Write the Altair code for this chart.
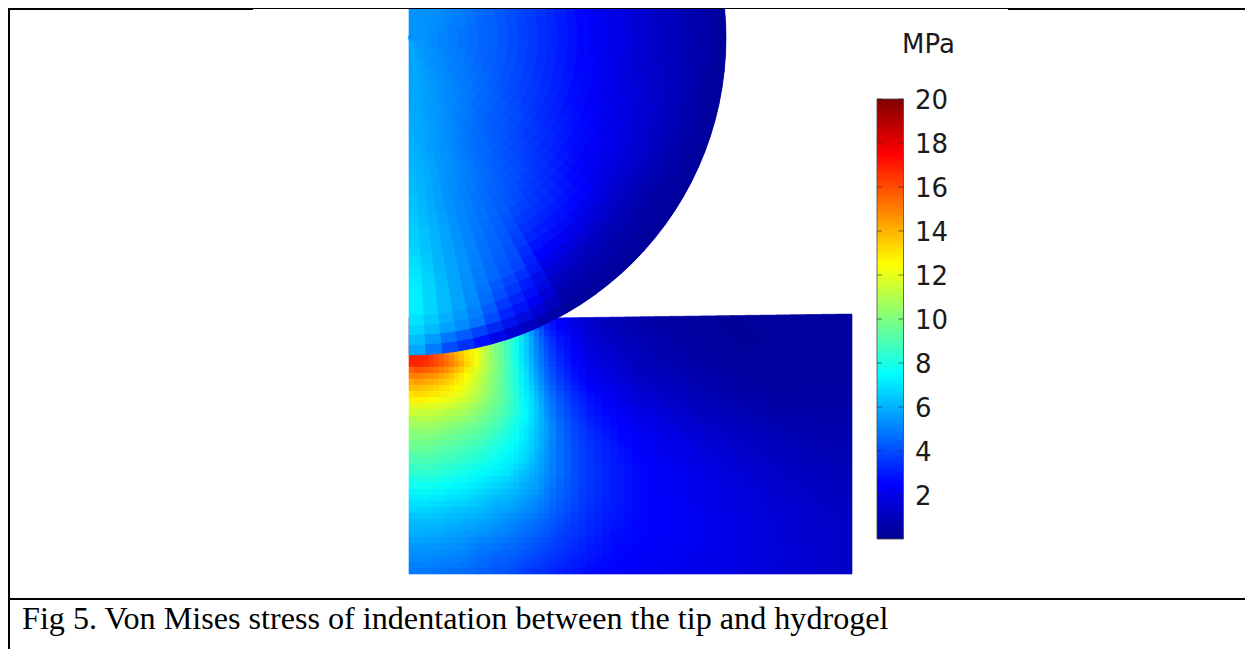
import pandas as pd
import numpy as np
import altair as alt

# Von Mises stress (MPa) in the tip: one row per 6 degree sector (clockwise from the top),
# values from the centre outward. Upper sectors are short: the figure's top edge cuts them.
TIP_SECTORS = [
 [5.4,5.4],[5.4,5.4],[5.4,5.4],[5.4,5.4],[5.4,5.4],[5.4,5.4],
 [5.4,5.4,5.3],[5.4,5.3,5.2],[5.4,5.3,5.1],[5.4,5.2,5.0,4.8],
 [5.4,5.2,5.0,4.7],[5.4,5.2,4.9,4.6,4.4,4.0],[5.4,5.1,4.9,4.5,4.2,3.9,3.6,3.2],
 [5.4,5.1,4.8,4.5,4.2,3.8,3.4,3.0,2.6,2.2,1.9,1.5,1.2,.9,.6,.3],
 [5.4,5.1,4.8,4.5,4.2,3.8,3.4,3.0,2.6,2.2,1.9,1.5,1.2,.9,.6,.3],
 [5.4,5.1,4.8,4.5,4.2,3.8,3.4,3.0,2.6,2.2,1.9,1.5,1.2,.9,.6,.3],
 [5.4,5.1,4.8,4.5,4.2,3.8,3.4,3.0,2.6,2.3,1.9,1.6,1.3,1.0,.6,.3],
 [5.4,5.1,4.9,4.5,4.2,3.9,3.5,3.1,2.7,2.3,2.0,1.7,1.4,1.0,.6,.3],
 [5.5,5.2,4.9,4.6,4.3,3.9,3.6,3.2,2.8,2.5,2.1,1.8,1.4,1.0,.6,.3],
 [5.5,5.2,5.0,4.7,4.4,4.0,3.7,3.3,3.0,2.7,2.3,2.0,1.5,1.0,.6,.3],
 [5.5,5.3,5.0,4.8,4.5,4.2,3.9,3.5,3.2,2.8,2.4,2.0,1.4,.9,.5,.3],
 [5.5,5.3,5.1,4.9,4.6,4.3,4.0,3.7,3.4,3.1,2.7,2.4,1.7,1.0,.6,.3],
 [5.5,5.3,5.2,5.0,4.7,4.4,4.2,3.9,3.7,3.4,3.1,2.7,1.9,1.1,.6,.3],
 [5.6,5.4,5.3,5.1,4.9,4.6,4.4,4.2,4.0,3.7,3.4,2.9,2.2,1.3,.7,.3],
 [5.6,5.5,5.4,5.2,5.0,4.8,4.6,4.5,4.3,4.1,3.7,3.2,2.5,1.6,.8,.3],
 [5.7,5.6,5.5,5.4,5.2,5.0,4.9,4.8,4.6,4.5,4.3,4.1,3.8,3.0,2.2,.8],
 [5.8,5.7,5.6,5.5,5.4,5.3,5.2,5.1,5.0,4.9,4.8,4.7,4.5,4.0,3.2,1.6],
 [5.8,5.8,5.7,5.6,5.6,5.5,5.5,5.4,5.4,5.4,5.4,5.4,5.3,5.2,4.8,2.8],
 [5.8,5.8,5.8,5.8,5.8,5.8,5.9,5.9,5.9,6.0,6.0,6.1,6.2,6.2,5.7,4.0],
 [5.6,5.6,5.7,5.8,5.9,6.0,6.1,6.2,6.4,6.5,6.7,7.0,7.2,7.2,6.7,5.8],
]

# Stress in the hydrogel, row by row from the surface downward
GEL_ROWS = [
 [17,17,16,15,14,13,12.5,11,10,9,7.5,6,4.5,3.2,2.5,1.9,1.4,1.1,.9,.7,.6,.5,.4,.3,.3,.25,.25,.3,.3,.3,.35,.4,.4,.4],
 [17,17,16,15,14,13,12.4,11,10,9,8,6.5,5,3.8,2.9,2.2,1.6,1.3,1.1,.9,.7,.6,.5,.4,.3,.3,.25,.25,.3,.3,.3,.35,.4,.4],
 [17,17,16,15,14,13,12.3,11,9.9,8.9,7.7,6.5,5.2,4.1,3.1,2.4,1.8,1.5,1.2,1,.8,.7,.6,.5,.4,.3,.3,.3,.3,.3,.3,.35,.4,.4],
 [16.8,16.5,16,15.4,14.5,13.3,12.2,11,10,9,7.9,6.7,5.4,4.3,3.3,2.6,2,1.7,1.4,1.1,.9,.8,.7,.6,.5,.4,.35,.3,.3,.3,.3,.35,.4,.4],
 [15,14.8,14.5,14,13.2,12.4,11.6,10.8,9.9,9,8,6.9,5.7,4.6,3.6,2.8,2.2,1.9,1.6,1.3,1.1,.95,.8,.7,.6,.5,.4,.35,.3,.3,.35,.35,.4,.4],
 [13.8,13.6,13.3,13,12.6,12,11.3,10.6,9.8,9,8.1,7.1,6,4.9,3.9,3.1,2.5,2.1,1.8,1.5,1.3,1.1,1,.85,.75,.65,.5,.45,.4,.4,.4,.4,.45,.45],
 [12.7,12.6,12.4,12.1,11.8,11.4,10.9,10.3,9.7,9,8.2,7.3,6.3,5.2,4.2,3.4,2.8,2.4,2,1.7,1.5,1.3,1.15,1,.9,.8,.7,.6,.5,.5,.5,.5,.5,.5],
 [11.5,11.4,11.3,11.1,10.9,10.6,10.2,9.8,9.3,8.8,8.1,7.4,6.5,5.4,4.4,3.6,3,2.6,2.3,2,1.8,1.6,1.4,1.2,1.05,.95,.85,.75,.65,.6,.6,.55,.55,.55],
 [10.6,10.6,10.5,10.3,10.1,9.9,9.6,9.3,8.9,8.4,7.8,7.2,6.4,5.6,4.6,3.8,3.2,2.8,2.5,2.2,2,1.8,1.6,1.4,1.25,1.1,1,.9,.8,.7,.7,.65,.6,.6],
 [10,10,9.9,9.7,9.5,9.3,9.1,8.8,8.4,8,7.6,7,6.3,5.6,4.7,3.9,3.4,3,2.6,2.4,2.2,2,1.8,1.6,1.45,1.3,1.15,1.05,.95,.85,.8,.75,.7,.7],
 [9.5,9.5,9.3,9.2,9,8.8,8.6,8.3,8,7.7,7.3,6.8,6.2,5.5,4.7,4,3.5,3.1,2.8,2.5,2.3,2.1,2,1.8,1.6,1.5,1.3,1.2,1.1,1,.9,.85,.8,.75],
 [9,8.9,8.8,8.7,8.5,8.3,8.1,7.9,7.6,7.3,7,6.6,6,5.4,4.7,4,3.5,3.2,2.9,2.6,2.4,2.2,2.1,1.9,1.8,1.6,1.5,1.3,1.2,1.1,1,.95,.9,.85],
 [8.4,8.4,8.3,8.2,8,7.8,7.6,7.4,7.2,7,6.6,6.2,5.8,5.3,4.7,4,3.6,3.2,2.9,2.7,2.5,2.3,2.2,2,1.9,1.7,1.6,1.4,1.3,1.2,1.1,1.05,1,.9],
 [7.8,7.8,7.7,7.6,7.4,7.3,7.1,6.9,6.7,6.5,6.2,5.9,5.6,5.1,4.5,4,3.5,3.2,2.9,2.7,2.5,2.3,2.2,2.1,2,1.8,1.7,1.6,1.4,1.3,1.2,1.15,1.1,1],
 [7.2,7.2,7.1,7,6.9,6.8,6.6,6.4,6.2,6.1,5.8,5.6,5.3,4.9,4.4,3.9,3.5,3.2,2.9,2.7,2.5,2.4,2.3,2.1,2,1.9,1.8,1.7,1.5,1.4,1.3,1.2,1.15,1.05],
 [6.7,6.7,6.6,6.5,6.4,6.3,6.2,6,5.8,5.7,5.5,5.2,5,4.7,4.2,3.8,3.4,3.1,2.9,2.7,2.5,2.4,2.3,2.2,2,1.9,1.8,1.7,1.6,1.5,1.4,1.3,1.2,1.1],
 [6.2,6.2,6.2,6.1,6,5.9,5.8,5.6,5.5,5.3,5.1,4.9,4.7,4.4,4,3.6,3.3,3,2.8,2.6,2.5,2.4,2.3,2.2,2.1,2,1.9,1.7,1.6,1.5,1.4,1.35,1.3,1.15],
 [5.9,5.9,5.8,5.7,5.6,5.5,5.4,5.3,5.1,5,4.8,4.6,4.4,4.2,3.8,3.5,3.2,2.9,2.7,2.6,2.5,2.4,2.3,2.2,2.1,2,1.9,1.8,1.7,1.5,1.45,1.4,1.3,1.2],
 [5.5,5.5,5.5,5.4,5.3,5.2,5,4.9,4.8,4.6,4.5,4.3,4.1,3.9,3.6,3.3,3,2.8,2.6,2.5,2.4,2.3,2.2,2.2,2.1,2,1.9,1.8,1.7,1.6,1.5,1.4,1.3,1.2],
 [5.2,5.2,5.1,5.1,5,4.9,4.7,4.6,4.4,4.3,4.2,4,3.8,3.6,3.4,3.1,2.9,2.7,2.5,2.4,2.3,2.3,2.2,2.1,2,2,1.9,1.8,1.7,1.6,1.5,1.4,1.3,1.2],
 [4.9,4.9,4.8,4.8,4.7,4.6,4.5,4.4,4.2,4.1,3.9,3.7,3.5,3.4,3.1,2.9,2.7,2.5,2.4,2.3,2.2,2.2,2.1,2,2,1.9,1.8,1.7,1.6,1.5,1.5,1.4,1.3,1.2],
]
TICK_VALUES = [2,4,6,8,10,12,14,16,18,20]
CAPTION = "Fig 5. Von Mises stress of indentation between the tip and hydrogel"
UNIT = "MPa"
JET_STOPS = [0, 2.5, 7.5, 12.5, 17.5, 20]
JET_COLORS = ["#00008f", "#0000ff", "#00ffff", "#ffff00", "#ff0000", "#800000"]

# ---- geometry of the picture ----
W, H = 1237, 641
xs = alt.Scale(domain=[8, 1245], range=[0, W])
ys = alt.Scale(domain=[649, 8], range=[H, 0])
cs = alt.Scale(domain=JET_STOPS, range=JET_COLORS, interpolate="rgb")
barY = alt.Scale(domain=[0, 20], range=[531, 91])

R = 317
dr = R / 16
dth = np.pi / 30
SHIFTS = [(0, 0, 1.0), (0.5, 0, 0.5), (0, 0.5, 1/3), (0.5, 0.5, 0.25)]  # half-cell copies blended so the cells read as a smooth field


def tip_frame(st, sr):
    return pd.DataFrame([
        dict(cx=409, cy=38, t0=(j+st)*dth, t1=min((j+1+st)*dth, np.pi),
             r0=(i+sr)*dr, r1=min((i+1+sr)*dr, R), v=v)
        for j, row in enumerate(TIP_SECTORS) for i, v in enumerate(row)
        if (j+st)*dth < np.pi and (i+sr)*dr < R
    ])


col_edges = [409 + 10*i for i in range(14)]
col_edges += [round(549 + i*(852-549)/20) for i in range(21)]
row_edges = [round(318 + i*(574-318)/21) for i in range(22)]


def gel_frame(sx, sy):
    out = []
    nc, nr = len(col_edges)-1, len(row_edges)-1
    for r, row in enumerate(GEL_ROWS):
        for c, v in enumerate(row):
            x0, x1 = col_edges[c], col_edges[c+1]
            y0, y1 = row_edges[r], row_edges[r+1]
            if sx:
                x0, x1 = (x0+x1)//2, (col_edges[c+1]+col_edges[c+2])//2 if c+2 <= nc else 852
            if sy:
                y0, y1 = (y0+y1)//2, (row_edges[r+1]+row_edges[r+2])//2 if r+2 <= nr else 574
            elif r == 0:
                y0 = 318 - 4*max(0, (x0+x1)/2-553)/299
            out.append(dict(x=x0, x2=x1, y=y0, y2=y1, v=v))
    return pd.DataFrame(out)


layers = []
for sx, sy, op in SHIFTS:
    enc = dict(
        x=alt.X("x:Q", scale=xs, axis=None), x2="x2:Q",
        y=alt.Y("y:Q", scale=ys, axis=None), y2="y2:Q",
        color=alt.Color("v:Q", scale=cs, legend=None),
    )
    if op == 1.0:
        layers.append(alt.Chart(gel_frame(sx, sy)).mark_rect(strokeWidth=0.6).encode(
            stroke=alt.Stroke("v:Q", scale=cs, legend=None), **enc))
    else:
        layers.append(alt.Chart(gel_frame(sx, sy)).mark_rect(opacity=op).encode(**enc))

for st, sr, op in SHIFTS:
    enc = dict(
        x=alt.X("cx:Q", scale=xs, axis=None),
        y=alt.Y("cy:Q", scale=ys, axis=None),
        theta=alt.Theta("t0:Q", scale=None, stack=None), theta2="t1:Q",
        radius=alt.Radius("r0:Q", scale=None), radius2="r1:Q",
        color=alt.Color("v:Q", scale=cs, legend=None),
    )
    if op == 1.0:
        layers.append(alt.Chart(tip_frame(st, sr)).mark_arc(strokeWidth=0.6).encode(
            stroke=alt.Stroke("v:Q", scale=cs, legend=None), **enc))
    else:
        layers.append(alt.Chart(tip_frame(st, sr)).mark_arc(opacity=op).encode(**enc))

bar = alt.Chart(pd.DataFrame({"a":[877],"b":[903.5],"lo":[0],"hi":[20]})).mark_rect(
    fill=alt.Gradient(gradient="linear", x1=0, x2=0, y1=1, y2=0,
        stops=[alt.GradientStop(offset=s/20, color=c) for s, c in zip(JET_STOPS, JET_COLORS)]),
    stroke="#444444", strokeWidth=0.8,
).encode(
    x=alt.X("a:Q", scale=xs, axis=None), x2="b:Q",
    y=alt.Y("lo:Q", scale=barY, axis=None), y2="hi:Q",
)
tk = pd.DataFrame({"v": TICK_VALUES, "l0":[877]*10, "l1":[882]*10, "r0":[898.5]*10, "r1":[903.5]*10, "tx":[915]*10})
tk["lab"] = tk["v"].astype(str)
tl = alt.Chart(tk).mark_rule(color="#222244", strokeWidth=1, opacity=.6).encode(
    x=alt.X("l0:Q", scale=xs, axis=None), x2="l1:Q", y=alt.Y("v:Q", scale=barY, axis=None))
tr = alt.Chart(tk).mark_rule(color="#222244", strokeWidth=1, opacity=.6).encode(
    x=alt.X("r0:Q", scale=xs, axis=None), x2="r1:Q", y=alt.Y("v:Q", scale=barY, axis=None))
tt = alt.Chart(tk).mark_text(align="left", baseline="middle", font="DejaVu Sans", fontSize=26, color="#1a1a1a", dy=2).encode(
    x=alt.X("tx:Q", scale=xs, axis=None), y=alt.Y("v:Q", scale=barY, axis=None), text="lab:N")

text_df = pd.DataFrame({"x":[928.5,22],"y":[45,629],"t":[UNIT,CAPTION]})
unit = alt.Chart(text_df.iloc[[0]]).mark_text(align="center", baseline="middle", font="DejaVu Sans", fontSize=26, color="#1a1a1a").encode(
    x=alt.X("x:Q", scale=xs, axis=None), y=alt.Y("y:Q", scale=ys, axis=None), text="t:N")
cap = alt.Chart(text_df.iloc[[1]]).mark_text(align="left", baseline="alphabetic", font="Liberation Serif", fontSize=32.15, color="#000000").encode(
    x=alt.X("x:Q", scale=xs, axis=None), y=alt.Y("y:Q", scale=ys, axis=None), text="t:N")

frame_df = pd.DataFrame([
    dict(x=8, x2=253, y=9, w=2),
    dict(x=253, x2=1008, y=8.5, w=1),
    dict(x=1008, x2=1245, y=9, w=2),
    dict(x=8, x2=1245, y=599, w=2),
])
hframe = alt.Chart(frame_df).mark_rule(color="#000000").encode(
    x=alt.X("x:Q", scale=xs, axis=None), x2="x2:Q",
    y=alt.Y("y:Q", scale=ys, axis=None),
    strokeWidth=alt.StrokeWidth("w:Q", scale=None, legend=None),
)
vframe = alt.Chart(pd.DataFrame({"x":[9],"y":[8],"y2":[649]})).mark_rule(color="#000000", strokeWidth=2).encode(
    x=alt.X("x:Q", scale=xs, axis=None),
    y=alt.Y("y:Q", scale=ys, axis=None), y2="y2:Q",
)

chart = alt.layer(*layers, bar, tl, tr, tt, unit, cap, hframe, vframe).resolve_scale(
    y="independent"
).properties(
    width=W, height=H, padding=0, autosize=alt.AutoSizeParams(type="none"), background="white",
).configure_view(stroke=None)

chart.save("out.html", embed_options={"renderer": "svg", "actions": False})
